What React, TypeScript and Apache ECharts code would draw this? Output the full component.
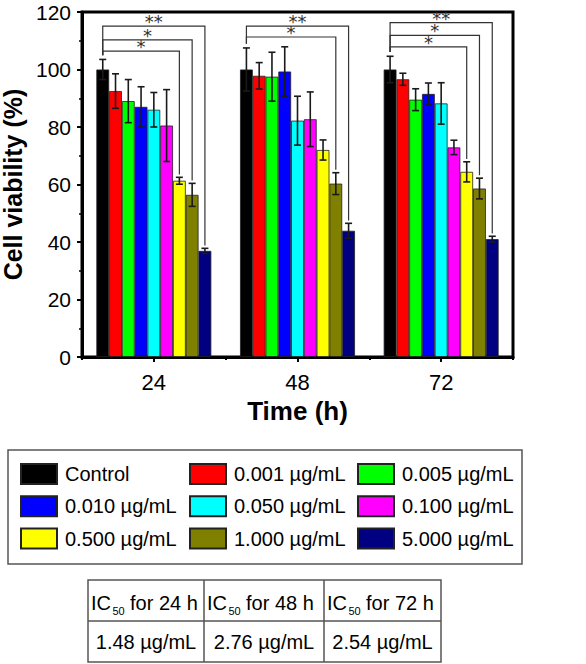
import React, { useEffect, useRef } from 'react';
import * as echarts from 'echarts';

// ---------- data ----------
const categories = ['24', '48', '72'];
const seriesNames = [
  'Control',
  '0.001 µg/mL',
  '0.005 µg/mL',
  '0.010 µg/mL',
  '0.050 µg/mL',
  '0.100 µg/mL',
  '0.500 µg/mL',
  '1.000 µg/mL',
  '5.000 µg/mL',
];
const seriesColors = ['#000000', '#ff0000', '#00ff00', '#0000ff', '#00ffff', '#ff00ff', '#ffff00', '#808000', '#000080'];
// mean cell viability (%) per concentration, at 24 h / 48 h / 72 h
const viabilityMeans = [
  [100, 100, 100],
  [92.5, 97.8, 96.6],
  [89, 97.5, 89.5],
  [87, 99.3, 91.5],
  [86, 82.2, 88.2],
  [80.5, 82.7, 72.9],
  [61.3, 72, 64.4],
  [56.4, 60.3, 58.6],
  [36.9, 43.9, 41],
];
// error bar half-lengths
const viabilityErrors = [
  [3.5, 7.5, 4.6],
  [6, 4.6, 2.1],
  [7.5, 8.5, 3.8],
  [7, 8.6, 3.8],
  [6, 8.5, 7.2],
  [12.5, 9.5, 2.5],
  [1.2, 3.5, 3.5],
  [4, 3.8, 3.6],
  [0.9, 2.6, 1],
];
const yTicks = [0, 120, 20]; // min, max, interval
// significance brackets (time index, compared series index, bracket level, label)
const sigTime = [0, 0, 0, 1, 1, 2, 2, 2];
const sigTarget = [6, 7, 8, 7, 8, 6, 7, 8];
const sigLevel = [106.4, 110.3, 115.1, 111.3, 115.1, 107.9, 111.9, 116.3];
const sigLabel = ['*', '*', '**', '*', '**', '*', '*', '**'];
// legend columns (series indices)
const legendColumns = [
  [0, 3, 6],
  [1, 4, 7],
  [2, 5, 8],
];
// IC50 table
const ic50Hours = ['24', '48', '72'];
const ic50Values = ['1.48', '2.76', '2.54'];
const ic50Unit = 'µg/mL';

const FONT = "'Liberation Sans', Arial, Helvetica, sans-serif";
const STAR_FONT = "'DejaVu Sans', sans-serif";
const NBARS = seriesNames.length;
const GROUP_FRAC = 0.8;

function barX(api: any, c: number, s: number) {
  const band = api.size([1, 0])[0];
  const barW = (band * GROUP_FRAC) / NBARS;
  return api.coord([c, 0])[0] - (band * GROUP_FRAC) / 2 + (s + 0.5) * barW;
}

export default function App() {
  const ref = useRef<HTMLDivElement>(null);
  useEffect(() => {
    if (!ref.current) return;
    const chart = echarts.init(ref.current, null, { renderer: 'svg' });

    const barSeries = seriesNames.map((name, s) => ({
      type: 'bar',
      name,
      data: viabilityMeans[s],
      barGap: '0%',
      barCategoryGap: '20%',
      itemStyle: { color: seriesColors[s], borderColor: '#222', borderWidth: 0.8 },
      z: 2,
    }));

    const errorData: number[][] = [];
    seriesNames.forEach((_, s) => {
      categories.forEach((__, c) => {
        errorData.push([c, s, viabilityMeans[s][c], viabilityErrors[s][c]]);
      });
    });

    const errorSeries = {
      type: 'custom',
      name: 'error',
      data: errorData,
      encode: { x: 0, y: 2 },
      z: 5,
      silent: true,
      renderItem: (params: any, api: any) => {
        const c = api.value(0);
        const s = api.value(1);
        const m = api.value(2);
        const e = api.value(3);
        const x = barX(api, c, s);
        const yT = api.coord([c, m + e])[1];
        const yB = api.coord([c, m - e])[1];
        const cap = 3.5;
        const st = { stroke: '#1a1a1a', lineWidth: 1.6 };
        return {
          type: 'group',
          children: [
            { type: 'line', shape: { x1: x, y1: yT, x2: x, y2: yB }, style: st },
            { type: 'line', shape: { x1: x - cap, y1: yT, x2: x + cap, y2: yT }, style: st },
            { type: 'line', shape: { x1: x - cap, y1: yB, x2: x + cap, y2: yB }, style: st },
          ],
        };
      },
    };

    const bracketData = sigTime.map((t, i) => [t, sigTarget[i], sigLevel[i], i]);
    const bracketSeries = {
      type: 'custom',
      name: 'sig',
      data: bracketData,
      encode: { x: 0, y: 2 },
      z: 6,
      silent: true,
      renderItem: (params: any, api: any) => {
        const c = api.value(0);
        const s = api.value(1);
        const lvl = api.value(2);
        const idx = api.value(3);
        const x0 = barX(api, c, 0);
        const x1 = barX(api, c, s);
        const yStart = api.coord([c, viabilityMeans[0][c] + viabilityErrors[0][c] + 1.5])[1];
        const yLvl = api.coord([c, lvl])[1];
        const yEnd = api.coord([c, viabilityMeans[s][c] + viabilityErrors[s][c] + 1])[1];
        return {
          type: 'group',
          children: [
            {
              type: 'polyline',
              shape: { points: [[x0, yStart], [x0, yLvl], [x1, yLvl], [x1, yEnd]] },
              style: { stroke: '#333', lineWidth: 1.2, fill: 'none' },
            },
            {
              type: 'text',
              x: (x0 + x1) / 2,
              y: yLvl - 4.5,
              style: {
                text: sigLabel[idx],
                fontSize: 18,
                fontFamily: STAR_FONT,
                fill: '#333',
                align: 'center',
                verticalAlign: 'middle',
              },
            },
          ],
        };
      },
    };

    const legendX = [20, 189, 357];
    const legends = legendColumns.map((col, i) => ({
      orient: 'vertical',
      left: legendX[i],
      top: 463,
      padding: 0,
      itemWidth: 36,
      itemHeight: 20,
      itemGap: 10.3,
      icon: 'rect',
      selectedMode: false,
      data: col.map((k) => seriesNames[k]),
      textStyle: { fontSize: 20, color: '#000', fontFamily: FONT, padding: [0, 0, 0, 3] },
    }));

    // IC50 table graphics
    const colEdges = [88, 204, 324, 441];
    const tTop = 580;
    const tMid = 621;
    const tBot = 662;
    const tableStyle = { stroke: '#555', lineWidth: 1.5 };
    const tableEls: any[] = [
      { type: 'rect', shape: { x: colEdges[0], y: tTop, width: colEdges[3] - colEdges[0], height: tBot - tTop }, style: { fill: 'none', ...tableStyle } },
      { type: 'line', shape: { x1: colEdges[1], y1: tTop, x2: colEdges[1], y2: tBot }, style: tableStyle },
      { type: 'line', shape: { x1: colEdges[2], y1: tTop, x2: colEdges[2], y2: tBot }, style: tableStyle },
      { type: 'line', shape: { x1: colEdges[0], y1: tMid, x2: colEdges[3], y2: tMid }, style: tableStyle },
    ];
    ic50Hours.forEach((h, i) => {
      const gx = colEdges[i] + 3;
      const gy = (tTop + tMid) / 2 + 2;
      tableEls.push({
        type: 'group',
        x: gx,
        y: gy,
        children: [
          { type: 'text', x: 0, y: 0, style: { text: 'IC', fontSize: 20, fontFamily: FONT, fill: '#000', verticalAlign: 'middle' } },
          { type: 'text', x: 21.5, y: 8, style: { text: '50', fontSize: 11, fontFamily: FONT, fill: '#000', verticalAlign: 'middle' } },
          { type: 'text', x: 39, y: 0, style: { text: `for ${h} h`, fontSize: 20, fontFamily: FONT, fill: '#000', verticalAlign: 'middle' } },
        ],
      });
      tableEls.push({
        type: 'text',
        x: (colEdges[i] + colEdges[i + 1]) / 2,
        y: (tMid + tBot) / 2,
        style: { text: `${ic50Values[i]} ${ic50Unit}`, fontSize: 20, fontFamily: FONT, fill: '#000', align: 'center', verticalAlign: 'middle' },
      });
    });

    const option: any = {
      animation: false,
      textStyle: { fontFamily: FONT },
      grid: [
        { left: 82, top: 12, right: 73, bottom: 307, show: true, borderColor: '#000', borderWidth: 3, containLabel: false, outerBoundsMode: 'none' },
        { left: 82, top: 12, right: 73, bottom: 307, show: false, containLabel: false, outerBoundsMode: 'none' },
      ],
      legend: legends,
      xAxis: [
        {
          type: 'category',
          gridIndex: 0,
          data: categories,
          axisLine: { show: true, lineStyle: { color: '#000', width: 3 } },
          axisTick: { show: true, alignWithLabel: true, length: 5, lineStyle: { color: '#000', width: 2 } },
          axisLabel: { fontSize: 22, color: '#000', margin: 14, fontFamily: FONT },
          name: 'Time (h)',
          nameLocation: 'middle',
          nameGap: 40,
          nameTextStyle: { fontSize: 26, fontWeight: 'bold', color: '#000', fontFamily: FONT },
        },
        {
          type: 'category',
          gridIndex: 1,
          data: categories,
          axisLine: { show: false },
          axisTick: { show: true, alignWithLabel: false, length: 3, lineStyle: { color: '#000', width: 2 } },
          axisLabel: { show: false },
        },
      ],
      yAxis: [
        {
          type: 'value',
          gridIndex: 0,
          min: yTicks[0],
          max: yTicks[1],
          interval: yTicks[2],
          axisLine: { show: true, lineStyle: { color: '#000', width: 3 } },
          axisTick: { show: true, length: 5, lineStyle: { color: '#000', width: 2 } },
          minorTick: { show: true, splitNumber: 2, length: 3, lineStyle: { color: '#000', width: 1.5 } },
          splitLine: { show: false },
          axisLabel: { fontSize: 21, color: '#000', margin: 11, fontFamily: FONT },
          name: 'Cell viability (%)',
          nameLocation: 'middle',
          nameGap: 47,
          nameTextStyle: { fontSize: 25, fontWeight: 'bold', color: '#000', fontFamily: FONT },
        },
        { type: 'value', gridIndex: 1, min: yTicks[0], max: yTicks[1], show: false },
      ],
      series: [...barSeries, errorSeries, bracketSeries],
      graphic: [
        {
          type: 'rect',
          shape: { x: 8, y: 450, width: 514, height: 114 },
          style: { fill: 'none', stroke: '#555', lineWidth: 1.5 },
          silent: true,
        },
        ...tableEls,
      ],
    };
    chart.setOption(option);
    return () => chart.dispose();
  }, []);

  return <div ref={ref} style={{ position: 'absolute', left: 0, top: 0, width: 586, height: 664 }} />;
}
